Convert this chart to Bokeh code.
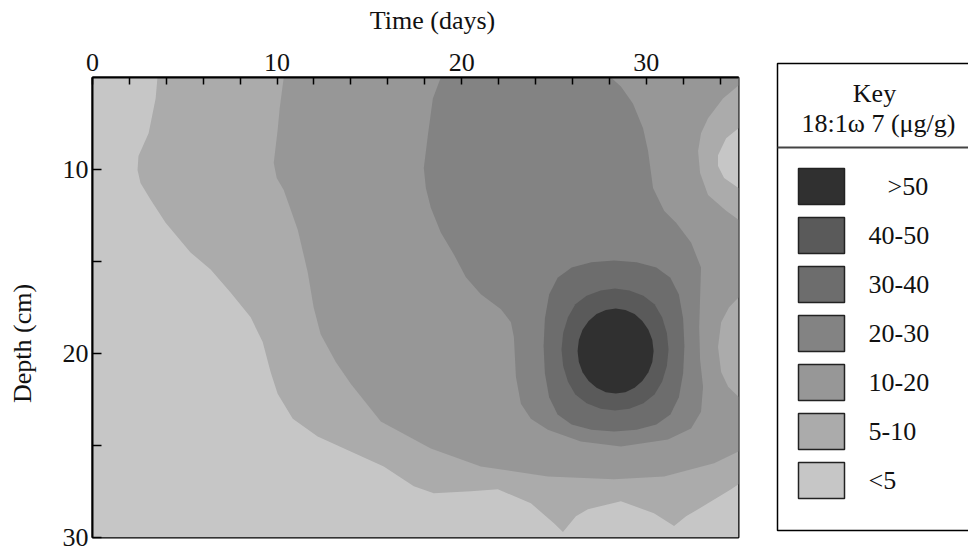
from math import pi
from bokeh.plotting import figure
from bokeh.models import Range1d, FixedTicker, ColumnDataSource
from bokeh.layouts import row, column
from bokeh.embed import file_html
from bokeh.resources import INLINE
from bokeh.core.properties import value

SERIF = "Liberation Serif"
TXT = "#111111"

# ---------------- axes ----------------
time_range = [0, 35]          # days
depth_range = [5, 30]         # cm
time_ticks = [0, 10, 20, 30]
time_minor_ticks = [2, 4, 6, 8, 12, 14, 16, 18, 22, 24, 26, 28, 32, 34]
depth_ticks = [10, 20, 30]
depth_minor_ticks = [15, 25]

# ---------------- key ----------------
key_labels = [">50", "40-50", "30-40", "20-30", "10-20", "5-10", "<5"]
key_colors = ["#303030", "#5a5a5a", "#6d6d6d", "#838383", "#979797", "#ababab", "#c6c6c6"]

# ---------------- contour regions (time in days, depth in cm) ----------------
# region where 18:1w7 >= 5 ug/g
ge5_t = [3.52, 3.42, 3.04, 2.49, 2.44, 2.60, 3.15, 3.96, 5.31, 6.40, 7.48, 8.57, 9.22, 9.65,
         10.03, 10.85, 12.20, 13.99, 15.78, 17.41, 18.49, 20.50, 21.96, 23.75, 25.0, 25.49,
         26.19, 26.84, 28.63, 30.42, 31.51, 32.16, 32.81, 34.60, 35.0, 35.0, 34.22, 33.89,
         33.89, 34.33, 35.0, 35.0]
ge5_d = [5.0, 6.14, 8.03, 9.27, 10.03, 10.73, 11.65, 12.89, 14.51, 15.43, 16.68, 18.03, 19.38, 21.0,
         22.19, 23.54, 24.51, 25.32, 26.14, 27.22, 27.59, 27.49, 27.38, 28.14, 29.22, 29.70,
         28.84, 28.46, 28.03, 28.68, 29.38, 28.84, 28.46, 27.38, 27.11, 11.0, 10.46, 9.81,
         9.22, 8.30, 7.76, 5.0]

# region >= 10
ge10_t = [10.36, 10.14, 10.03, 9.82, 9.98, 10.36, 11.12, 11.66, 11.98, 12.36, 13.18, 13.99, 15.62,
          18.33, 21.04, 24.67, 28.25, 30.97, 33.68, 35.0, 35.0, 34.44, 34.06, 33.89, 34.06, 34.49,
          35.0, 35.0, 34.33, 33.35, 32.92, 32.81, 32.97, 33.35, 34.16, 35.0, 35.0]
ge10_d = [5.0, 6.68, 7.86, 9.65, 10.46, 11.11, 13.27, 15.59, 17.49, 18.95, 20.46, 21.65, 23.70,
          25.16, 26.14, 26.68, 26.84, 26.68, 25.97, 25.32, 22.35, 21.81, 21.0, 19.65, 18.30, 17.49,
          16.95, 12.73, 12.24, 11.38, 10.19, 9.0, 8.03, 7.22, 6.14, 5.43, 5.0]

# region >= 20
ge20_t = [18.87, 18.44, 18.17, 17.95, 18.06, 18.33, 18.87, 19.58, 20.23, 21.04, 22.13, 22.67, 22.83,
          22.94, 23.21, 23.75, 24.67, 26.46, 28.63, 31.18, 32.43, 32.97, 33.08, 32.92, 32.87, 32.92,
          32.97, 32.43, 31.62, 30.97, 30.37, 30.10, 29.83, 29.28, 28.63, 28.09]
ge20_d = [5.0, 6.14, 8.14, 9.92, 11.0, 12.08, 13.43, 14.62, 15.86, 16.78, 17.59, 18.30, 19.11,
          21.27, 22.73, 23.54, 24.14, 24.78, 25.05, 24.68, 24.08, 23.16, 21.81, 20.35, 18.57, 16.95,
          15.32, 13.97, 12.89, 12.24, 11.0, 9.0, 7.76, 6.41, 5.49, 5.0]

# region >= 30
ge30_t = [32.07, 32.0, 31.77, 31.31, 30.55, 29.48, 28.26, 27.03, 25.96, 25.20, 24.74, 24.51,
          24.44, 24.51, 24.74, 25.20, 25.96, 27.03, 28.26, 29.48, 30.55, 31.31, 31.77, 32.0]
ge30_d = [19.59, 21.08, 22.38, 23.31, 23.86, 24.15, 24.24, 24.15, 23.86, 23.31, 22.38, 21.08,
          19.59, 18.10, 16.80, 15.88, 15.32, 15.04, 14.95, 15.04, 15.32, 15.88, 16.80, 18.10]

# region >= 40
ge40_t = [31.21, 31.12, 30.86, 30.45, 29.85, 29.09, 28.31, 27.53, 26.77, 26.16, 25.76, 25.50,
          25.41, 25.50, 25.76, 26.16, 26.77, 27.53, 28.31, 29.09, 29.85, 30.45, 30.86, 31.12]
ge40_d = [19.78, 20.68, 21.53, 22.23, 22.70, 23.0, 23.10, 23.0, 22.70, 22.23, 21.53, 20.68,
          19.78, 18.89, 18.03, 17.33, 16.86, 16.57, 16.47, 16.57, 16.86, 17.33, 18.03, 18.89]

# region > 50
ge50_t = [30.40, 30.33, 30.12, 29.79, 29.37, 28.87, 28.35, 27.81, 27.31, 26.88, 26.55, 26.35,
          26.28, 26.35, 26.55, 26.88, 27.31, 27.81, 28.35, 28.87, 29.37, 29.79, 30.12, 30.33]
ge50_d = [19.86, 20.46, 21.02, 21.49, 21.86, 22.10, 22.17, 22.10, 21.86, 21.49, 21.02, 20.46,
          19.86, 19.27, 18.71, 18.23, 17.86, 17.63, 17.55, 17.63, 17.86, 18.23, 18.71, 19.27]

H = 552
STRIP_H = 36
MAIN_W = 730


def blank(width, height):
    f = figure(width=width, height=height, x_range=Range1d(0, width), y_range=Range1d(height, 0),
               x_axis_type=None, y_axis_type=None, output_backend="svg",
               toolbar_location=None, min_border=0)
    f.frame_align = False
    f.outline_line_color = None
    f.background_fill_color = "white"
    f.border_fill_color = "white"
    f.xgrid.grid_line_color = None
    f.ygrid.grid_line_color = None
    return f


# ---------------- y-axis title strip ----------------
lf = blank(40, H)
lf.text(x=[22], y=[343], text=["Depth (cm)"], angle=pi / 2, text_font=value(SERIF),
        text_font_size="26px", text_color=TXT, text_align="center", text_baseline="middle")

# ---------------- x-axis title strip ----------------
top = blank(MAIN_W, STRIP_H)
top.text(x=[392], y=[20], text=["Time (days)"], text_font=value(SERIF),
         text_font_size="26px", text_color=TXT, text_align="center", text_baseline="middle")

# ---------------- main plot ----------------
p = figure(width=MAIN_W, height=H - STRIP_H,
           x_range=Range1d(time_range[0], time_range[1]),
           y_range=Range1d(depth_range[1], depth_range[0]),
           x_axis_location="above",
           output_backend="svg", toolbar_location=None,
           min_border_left=52, min_border_right=32, min_border_top=77 - STRIP_H,
           min_border_bottom=15)
p.frame_align = False
p.background_fill_color = "white"
p.border_fill_color = "white"
p.outline_line_color = "black"
p.outline_line_width = 2
p.xgrid.grid_line_color = None
p.ygrid.grid_line_color = None

# background = lowest class
p.patch([time_range[0], time_range[1], time_range[1], time_range[0]],
        [depth_range[0], depth_range[0], depth_range[1], depth_range[1]],
        fill_color=key_colors[6], line_color=None)

regions = [(ge5_t, ge5_d, key_colors[5]),
           (ge10_t, ge10_d, key_colors[4]),
           (ge20_t, ge20_d, key_colors[3]),
           (ge30_t, ge30_d, key_colors[2]),
           (ge40_t, ge40_d, key_colors[1]),
           (ge50_t, ge50_d, key_colors[0])]
for rt, rd, col in regions:
    p.patch(rt, rd, fill_color=col, line_color=None)

xa = p.xaxis[0]
xa.ticker = FixedTicker(ticks=time_ticks, minor_ticks=time_minor_ticks)
ya = p.yaxis[0]
ya.ticker = FixedTicker(ticks=depth_ticks, minor_ticks=depth_minor_ticks)
for ax, tl in ((xa, 7), (ya, 9)):
    ax.axis_line_color = "black"
    ax.axis_line_width = 2
    ax.major_tick_in = tl
    ax.major_tick_out = 0
    ax.minor_tick_in = tl
    ax.minor_tick_out = 0
    ax.major_tick_line_width = 1.5
    ax.minor_tick_line_width = 1.5
    ax.major_tick_line_color = "black"
    ax.minor_tick_line_color = "black"
    ax.major_label_text_font = SERIF
    ax.major_label_text_font_size = "26px"
    ax.major_label_text_color = TXT
xa.major_label_standoff = 7
ya.major_label_standoff = 4

# ---------------- key panel ----------------
KW = 198
k = blank(KW, H)
k.quad(left=[7], right=[215], top=[63], bottom=[530], fill_color=None,
       line_color="black", line_width=1.5)
k.segment(x0=[7], y0=[147], x1=[215], y1=[147], line_color="#444444", line_width=2)
k.text(x=[104, 108], y=[93, 123], text=["Key", "18:1\u03c9 7 (\u03bcg/g)"],
       text_font=value(SERIF), text_font_size="26px", text_color=TXT,
       text_align="center", text_baseline="middle")

src = ColumnDataSource(dict(
    label=key_labels,
    color=key_colors,
    y=[186 + 49 * i for i in range(len(key_labels))],
    lx=[117 if i == 0 else 98 for i in range(len(key_labels))],
))
k.rect(x=51, y="y", width=46, height=36, fill_color="color", line_color="#222222",
       line_width=1.5, source=src)
k.text(x="lx", y="y", text="label", text_font=value(SERIF), text_font_size="26px",
       text_color=TXT, text_align="left", text_baseline="middle", source=src)

layout = row(lf, column(top, p), k)
open("out.html", "w").write(file_html(layout, INLINE))
